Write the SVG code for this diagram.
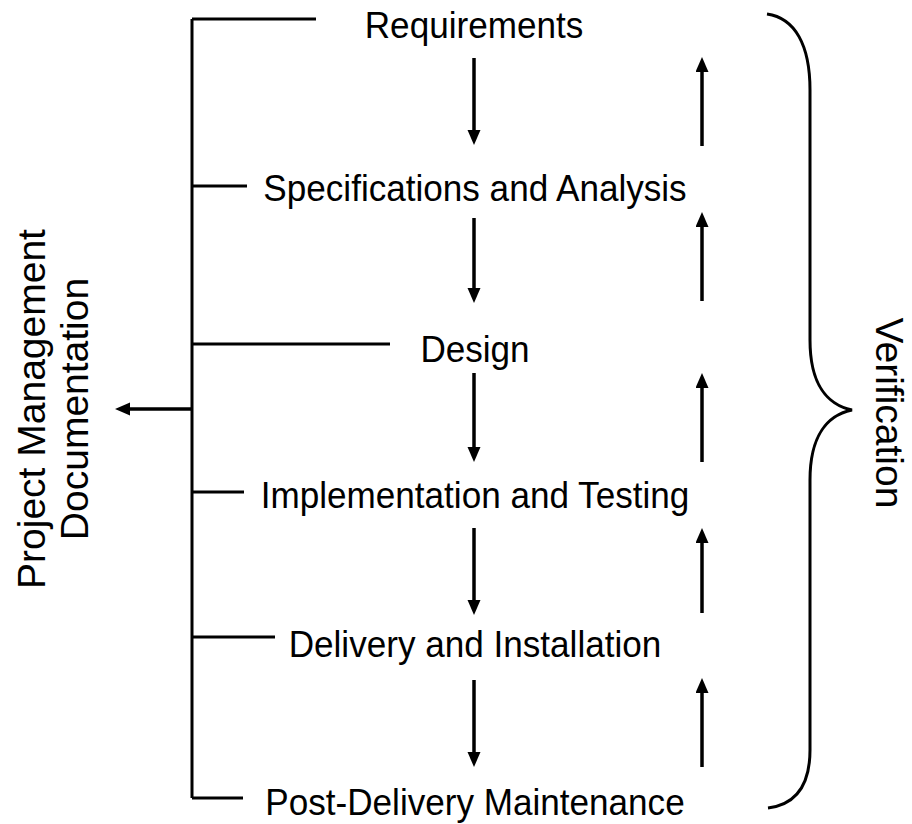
<svg xmlns="http://www.w3.org/2000/svg" width="912" height="824" viewBox="0 0 912 824">
<style>
  .ln { stroke: #000; stroke-width: 3; fill: none; }
  .arr { stroke: #000; stroke-width: 3.5; fill: none; marker-end: url(#ah); }
  .lbl { font-family: "Liberation Sans", Arial, sans-serif; font-size: 36px; fill: #000; text-anchor: middle; }
  .side { font-family: "Liberation Sans", Arial, sans-serif; font-size: 39px; fill: #000; text-anchor: middle; }
</style>
<defs>
  <marker id="ah" markerUnits="userSpaceOnUse" markerWidth="18" markerHeight="14" refX="8" refY="6.5" orient="auto">
    <path d="M0,0 L15,6.5 L0,13 z" fill="#000"/>
  </marker>
</defs>
<rect width="912" height="824" fill="#fff"/>

<g id="connectors">
  <path class="ln" d="M192,19 V798"/>
  <path class="ln" d="M192,19 H316"/>
  <path class="ln" d="M192,186 H247"/>
  <path class="ln" d="M192,344 H390"/>
  <path class="ln" d="M192,492 H244"/>
  <path class="ln" d="M192,637 H275"/>
  <path class="ln" d="M192,798 H243"/>
  <path class="arr" d="M192,409 H122"/>
  <!-- down arrows -->
  <path class="arr" d="M474,58 V138"/>
  <path class="arr" d="M474,218 V296"/>
  <path class="arr" d="M474,373 V455"/>
  <path class="arr" d="M474,528 V608"/>
  <path class="arr" d="M474,680 V760"/>
  <!-- up arrows -->
  <path class="arr" d="M702,146 V64"/>
  <path class="arr" d="M702,301 V219"/>
  <path class="arr" d="M702,462 V380"/>
  <path class="arr" d="M702,613 V535"/>
  <path class="arr" d="M702,767 V685"/>
  <!-- brace -->
  <path class="ln" d="M767,14 C795,18 810,45 810,90 L810,340 C810,385 828,405 852,410 C828,415 810,435 810,480 L810,750 C810,790 792,805 768,808"/>
</g>

<g id="n-requirements"><text class="lbl" transform="translate(474,38) scale(0.975,1)">Requirements</text></g>
<g id="n-specifications"><text class="lbl" transform="translate(475,201) scale(0.975,1)">Specifications and Analysis</text></g>
<g id="n-design"><text class="lbl" transform="translate(475,362) scale(0.975,1)">Design</text></g>
<g id="n-implementation"><text class="lbl" transform="translate(475,508) scale(0.975,1)">Implementation and Testing</text></g>
<g id="n-delivery"><text class="lbl" transform="translate(475,657) scale(0.975,1)">Delivery and Installation</text></g>
<g id="n-postdelivery"><text class="lbl" transform="translate(475,815) scale(0.975,1)">Post-Delivery Maintenance</text></g>

<g id="n-projectmgmt">
  <text class="side" transform="translate(45,409) rotate(-90)">Project Management</text>
  <text class="side" transform="translate(88,409) rotate(-90)">Documentation</text>
</g>
<g id="n-verification">
  <text class="side" transform="translate(876,413) rotate(90)">Verification</text>
</g>
</svg>
